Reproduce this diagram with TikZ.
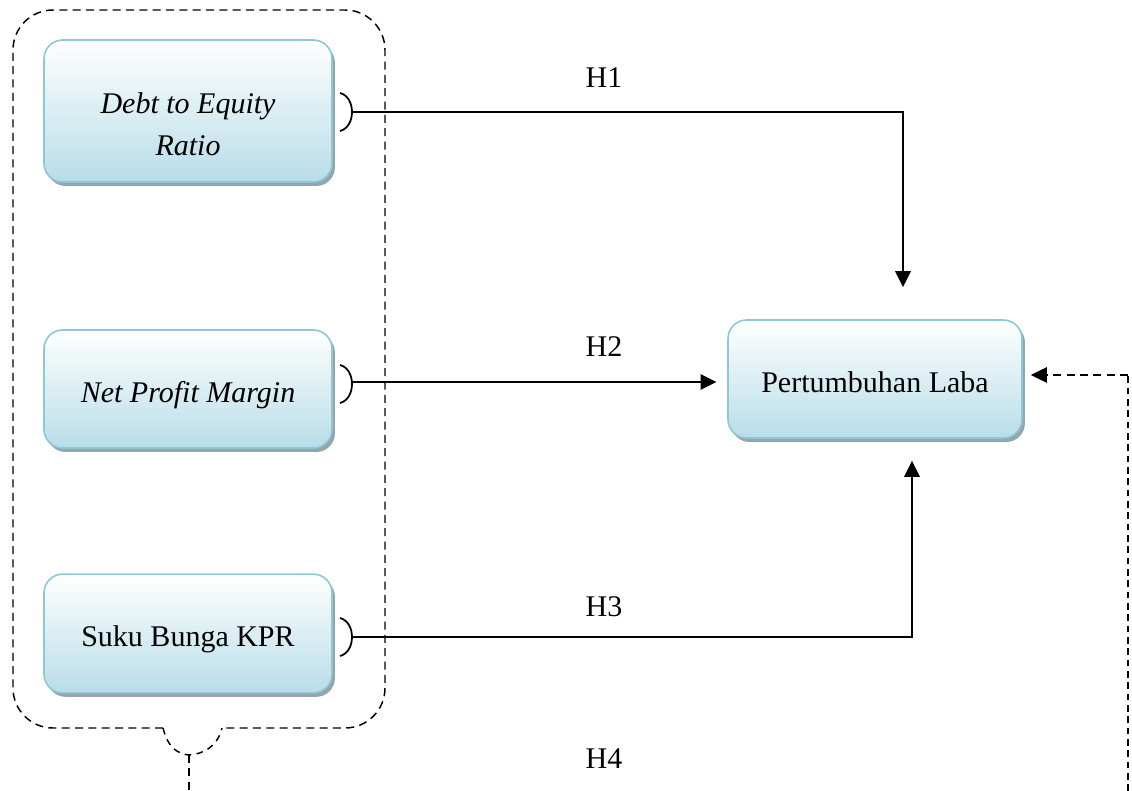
\documentclass[tikz,border=0pt]{standalone}
\usepackage{fontspec}
\setmainfont{Liberation Serif}
\usetikzlibrary{arrows.meta,shadows}
\definecolor{boxline}{RGB}{140,200,215}
\definecolor{boxbot}{RGB}{184,221,232}
\definecolor{boxshade}{RGB}{148,165,172}
\tikzset{
  varbox/.style={draw=boxline, line width=1.2pt, rounded corners=14pt, top color=white, bottom color=boxbot,
    drop shadow={shadow xshift=2.2pt, shadow yshift=-3pt, fill=boxshade, opacity=1},
    align=center, inner sep=0.75pt, text depth=0pt, text height=20pt},
  link/.style={line width=1.4pt, -{Triangle[length=12pt,width=11.5pt]}},
  dlink/.style={line width=1.2pt, dash pattern=on 6pt off 4pt, -{Triangle[length=12pt,width=11.5pt]}},
  hlbl/.style={inner sep=0.75pt}
}
\begin{document}
\begin{tikzpicture}[x=0.75pt,y=0.75pt,yscale=-1,xscale=1, font=\fontsize{22.5}{30}\selectfont]
\path[use as bounding box] (0,0) rectangle (1132,791);

% Variable boxes
\node [varbox, minimum width=216pt, minimum height=106.5pt] (der) at (188,111) {};
\node [align=center, inner sep=0.75pt] (dertxt) at (188,124) {\itshape Debt to Equity\\[1.5pt]\itshape Ratio};
\node [varbox, minimum width=216pt, minimum height=88.5pt] (npm) at (188,389) {\itshape Net Profit Margin};
\node [varbox, minimum width=216pt, minimum height=89pt] (kpr) at (188,633.5) {Suku Bunga KPR};
\node [varbox, minimum width=220.5pt, minimum height=88.5pt] (laba) at (875,379) {Pertumbuhan Laba};

% Dashed group round the three boxes
\draw [line width=1.1pt, dash pattern=on 6pt off 4pt, rounded corners=30pt] (163,728) -- (13,728) -- (13,10) -- (385,10) -- (385,728) -- (222,728) ;
\draw [line width=1.1pt, dash pattern=on 5pt off 4pt] (163,728) .. controls (168,748) and (178,754) .. (189,755) .. controls (202,754) and (217,748) .. (222,728) ;
\coordinate (grp) at (189,755);
\coordinate (grpend) at (189,791);
\draw [line width=1.1pt, dash pattern=on 6pt off 4pt] (grp) -- (grpend) ;

% Brackets
\draw [line width=1.3pt] (340,93) .. controls (356,97) and (356,127) .. (340,131) ;
\draw [line width=1.3pt] (340,365) .. controls (356,369) and (356,399) .. (340,403) ;
\draw [line width=1.3pt] (340,618) .. controls (356,622) and (356,652) .. (340,656) ;
\coordinate (j1) at (352,112);
\coordinate (j2) at (352,382);
\coordinate (j3) at (352,637);

% H1 - H3
\draw [link, shorten >=24pt] (j1) -| ([xshift=21pt]laba.north) ;
\draw [link, shorten >=8pt] (j2) -- (j2 -| laba.west) ;
\draw [link, shorten >=16.5pt] (j3) -| ([xshift=27.75pt]laba.south) ;

% H4
\coordinate (h4start) at (1128,791);
\coordinate (h4turn) at (1128,375);
\draw [line width=1.2pt, dash pattern=on 5pt off 3.5pt] (h4start) -- (h4turn) ;
\draw [dlink, shorten >=6pt] (h4turn) -- (h4turn -| laba.east) ;

% Text Node
\node [hlbl] (h1) at (604,78) {H1};
\node [hlbl] (h2) at (604,347) {H2};
\node [hlbl] (h3) at (604,607) {H3};
\node [hlbl] (h4) at (604,759) {H4};

\end{tikzpicture}
\end{document}
